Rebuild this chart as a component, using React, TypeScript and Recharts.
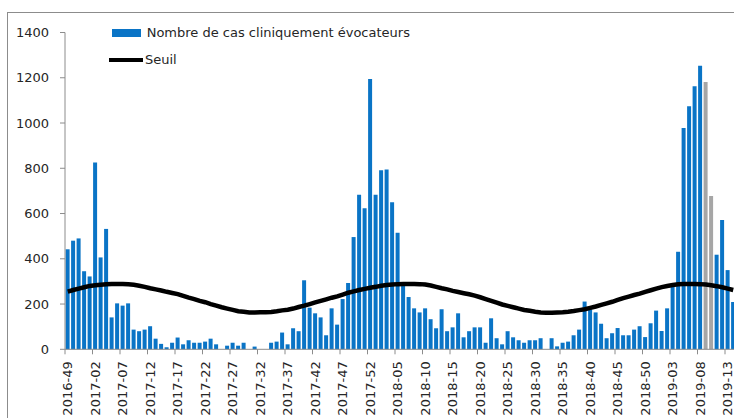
import React from 'react';
import { ComposedChart, Bar, Line, XAxis, YAxis, Legend, Cell } from 'recharts';

// weeks shown: 2016-49 .. 2019-14
const WEEK_RANGES = [
  [2016, 49, 52],
  [2017, 1, 52],
  [2018, 1, 52],
  [2019, 1, 14],
];

const CAS = [
  442, 480, 490, 345, 322, 826, 406, 532, 141, 203,
  193, 203, 87, 80, 87, 102, 47, 24, 9, 29,
  52, 22, 40, 29, 29, 34, 47, 22, 0, 16,
  29, 16, 29, 0, 12, 0, 0, 29, 34, 74,
  22, 93, 80, 305, 184, 159, 141, 62, 181, 109,
  222, 293, 496, 683, 623, 1194, 683, 791, 795, 650,
  515, 280, 231, 181, 163, 181, 133, 93, 177, 80,
  97, 159, 53, 80, 97, 97, 29, 137, 49, 22,
  80, 53, 40, 29, 40, 40, 49, 0, 49, 13,
  29, 34, 62, 87, 211, 177, 163, 113, 49, 71,
  94, 62, 62, 87, 102, 54, 115, 171, 81, 181,
  280, 431, 978, 1074, 1163, 1253, 1181, 677, 418, 571,
  350, 209,
];

const SEUIL = [
  255, 262, 268, 274, 280, 283, 285, 287, 289, 289,
  289, 287, 285, 281, 276, 270, 265, 260, 254, 249,
  244, 236, 228, 222, 214, 208, 200, 193, 186, 180,
  174, 168, 166, 163, 163, 164, 164, 165, 168, 172,
  175, 180, 187, 193, 200, 207, 214, 221, 228, 234,
  242, 250, 256, 262, 267, 272, 276, 281, 284, 286,
  288, 289, 289, 289, 288, 286, 282, 276, 270, 265,
  258, 253, 248, 243, 237, 230, 222, 214, 206, 198,
  192, 186, 180, 174, 170, 166, 163, 162, 162, 163,
  164, 166, 169, 173, 177, 183, 189, 196, 203, 210,
  218, 226, 233, 240, 246, 254, 261, 268, 275, 280,
  284, 287, 289, 289, 289, 288, 286, 283, 279, 274,
  268, 262,
];

// provisional weeks drawn in grey
const GREY_WEEKS = ['2019-09', '2019-10'];

const Y_TICKS = [0, 200, 400, 600, 800, 1000, 1200, 1400];

const BLUE = '#0A74C6';
const GREY = '#A6A6A6';
const FONT = '"DejaVu Sans", Verdana, sans-serif';
const TEXT = '#262626';
const AXIS = '#8C8C8C';

const weeks: string[] = [];
WEEK_RANGES.forEach(([year, from, to]) => {
  for (let w = from; w <= to; w++) weeks.push(`${year}-${String(w).padStart(2, '0')}`);
});

const data = weeks.map((week, i) => ({ week, cas: CAS[i], seuil: SEUIL[i] }));

const BAND = 671 / weeks.length;

const WeekTick = (props: any) => {
  const { x, y, payload } = props;
  const left = x - BAND / 2;
  return (
    <g>
      <line x1={left} y1={y} x2={left} y2={y + 5} stroke={AXIS} />
      <text
        x={x}
        y={y + 12}
        transform={`rotate(-90, ${x}, ${y + 12})`}
        textAnchor="end"
        dy="0.36em"
        fontFamily={FONT}
        fontSize={13}
        fill={TEXT}
      >
        {payload.value}
      </text>
    </g>
  );
};

const renderLegend = () => (
  <div style={{ position: 'relative', width: 420, height: 60, fontFamily: FONT, fontSize: 13, color: TEXT }}>
    <div style={{ position: 'absolute', left: 103.7, top: 16, width: 29, height: 8, background: BLUE }} />
    <span style={{ position: 'absolute', left: 138.7, top: 12, lineHeight: '16px', whiteSpace: 'nowrap' }}>
      Nombre de cas cliniquement évocateurs
    </span>
    <div style={{ position: 'absolute', left: 101.3, top: 45, width: 34, height: 4, background: '#000' }} />
    <span style={{ position: 'absolute', left: 137, top: 39, lineHeight: '16px', whiteSpace: 'nowrap' }}>Seuil</span>
  </div>
);

export default function App() {
  return (
    <div
      style={{
        position: 'fixed',
        left: 7,
        top: 12,
        width: 727,
        height: 406,
        overflow: 'hidden',
        borderTop: `1px solid ${AXIS}`,
        borderLeft: `1px solid ${AXIS}`,
        background: '#fff',
      }}
    >
      <ComposedChart
        width={728}
        height={405}
        data={data}
        margin={{ top: 19.5, right: 0, left: 0, bottom: 0 }}
        barCategoryGap="11%"
      >
        <XAxis
          dataKey="week"
          interval={4}
          tickLine={false}
          tickSize={0}
          tickMargin={0}
          height={68.7}
          stroke={AXIS}
          tick={<WeekTick />}
        />
        <YAxis
          width={57}
          domain={[0, 1400]}
          ticks={Y_TICKS}
          stroke={AXIS}
          tickSize={5}
          tickMargin={11}
          tick={{ fontFamily: FONT, fontSize: 13, fill: TEXT }}
        />
        <Legend
          layout="vertical"
          align="center"
          verticalAlign="middle"
          wrapperStyle={{ top: 0, left: 0 }}
          content={renderLegend}
        />
        <Bar dataKey="cas" name="Nombre de cas cliniquement évocateurs" fill={BLUE} isAnimationActive={false}>
          {data.map((d) => (
            <Cell key={d.week} fill={GREY_WEEKS.includes(d.week) ? GREY : BLUE} />
          ))}
        </Bar>
        <Line
          dataKey="seuil"
          name="Seuil"
          type="linear"
          stroke="#000"
          strokeWidth={4.5}
          dot={false}
          activeDot={false}
          isAnimationActive={false}
        />
      </ComposedChart>
    </div>
  );
}
